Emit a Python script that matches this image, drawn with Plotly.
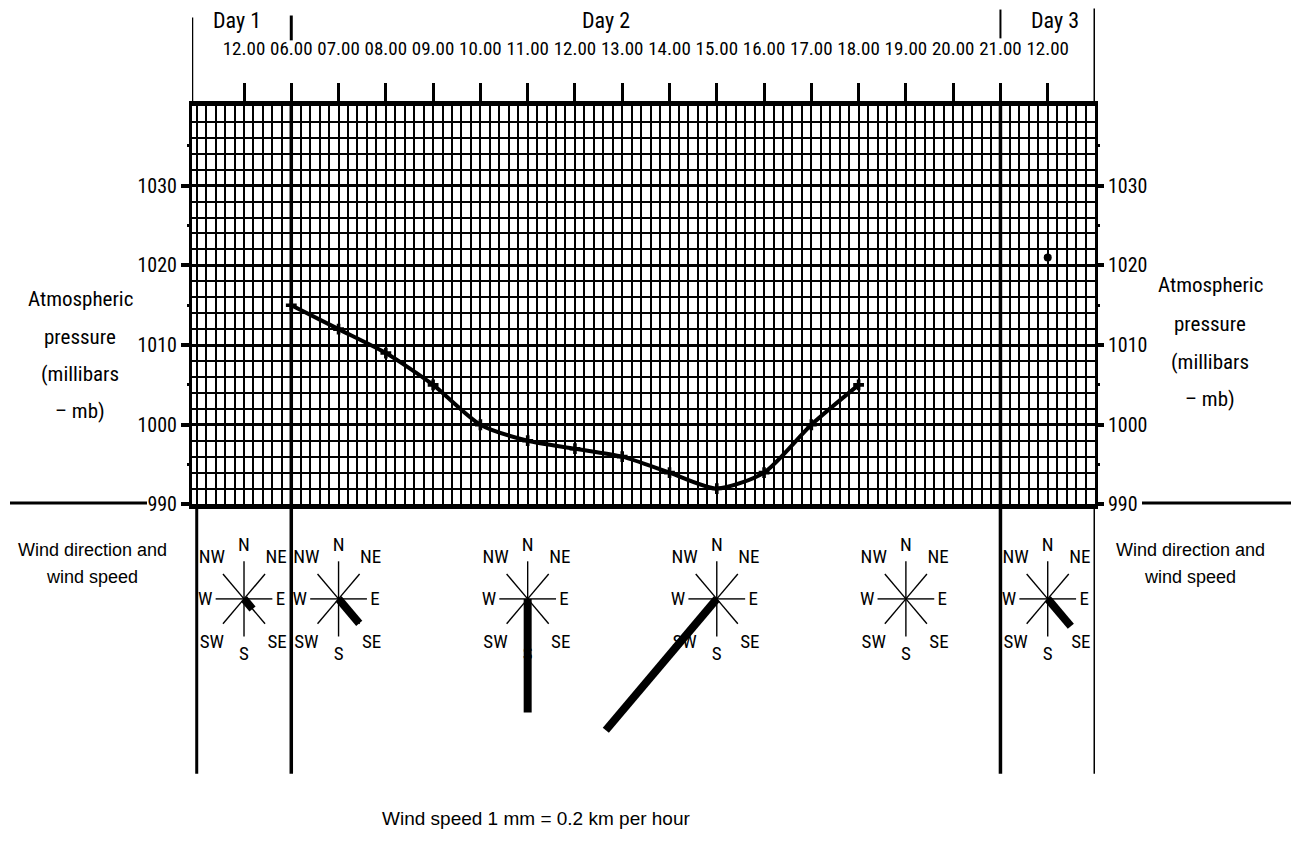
import math
import plotly.graph_objects as go

# ---------------- data ----------------
time_labels = ["12.00", "06.00", "07.00", "08.00", "09.00", "10.00", "11.00", "12.00",
               "13.00", "14.00", "15.00", "16.00", "17.00", "18.00", "19.00", "20.00",
               "21.00", "12.00"]
day_labels = ["Day 1", "Day 2", "Day 3"]

# pressure curve (Day 2, 06.00 .. 18.00) -> index into time_labels
curve_idx = [1, 2, 3, 4, 5, 6, 7, 8, 9, 10, 11, 12, 13]
curve_mb = [1015, 1012, 1009, 1005, 1000, 998, 997, 996, 994, 992, 994, 1000, 1005]
# isolated reading on Day 3
day3_idx = [17]
day3_mb = [1021]

pressure_ticks = [990, 1000, 1010, 1020, 1030]
pressure_minor_ticks = [995, 1005, 1015, 1025, 1035]

# wind roses
wind_idx = [0, 2, 6, 10, 14, 17]
wind_dir = ["SE", "SE", "S", "SW", "", "SE"]
wind_len = [0.28, 0.68, 2.42, 3.65, 0.0, 0.76]   # bar length (chart units)
compass = ["N", "NE", "E", "SE", "S", "SW", "W", "NW"]

# ---------------- layout helpers ----------------
W, H = 1291, 851
def px(x):
    return x / W
def py(y):
    # small empirical correction so that target pixel rows land where intended
    return 1 - ((y + 3.6) / 0.992) / H

XL, XR = 192, 1095
YT, YB = 103, 504
xr = [-1.1, 18.0]
unit = (XR - XL) / (xr[1] - xr[0])          # px per x unit
ROSE_Y = 599
WB = 775
y4_top, y4_bot = py(YB), py(WB)
y4r = [-(WB - ROSE_Y) / unit, (ROSE_Y - YB) / unit]

NARROW = "Roboto Condensed, Liberation Sans Narrow, Arial Narrow, Liberation Sans, Arial, sans-serif"
SANS = "Liberation Sans, Arial, sans-serif"

arm = {"N": (0, 0.80), "NE": (0.445, 0.53), "E": (0.60, 0), "SE": (0.445, -0.53),
       "S": (0, -0.80), "SW": (-0.445, -0.53), "W": (-0.60, 0), "NW": (-0.445, 0.53)}
lbl = {"N": (0, 1.12), "NE": (0.68, 0.86), "E": (0.77, -0.02), "SE": (0.70, -0.95),
       "S": (0, -1.2), "SW": (-0.68, -0.95), "W": (-0.82, -0.02), "NW": (-0.68, 0.86)}

fig = go.Figure()

# pressure curve
fig.add_trace(go.Scatter(
    x=curve_idx, y=curve_mb, mode="lines+markers",
    line=dict(color="black", width=4, shape="spline", smoothing=0.7),
    marker=dict(symbol="cross", size=9, color="black"),
    xaxis="x", yaxis="y", showlegend=False, hoverinfo="skip"))
fig.add_trace(go.Scatter(
    x=day3_idx, y=day3_mb, mode="markers",
    marker=dict(symbol="circle", size=8, color="black"),
    xaxis="x", yaxis="y", showlegend=False, hoverinfo="skip"))
# dummy traces for overlay axes
fig.add_trace(go.Scatter(x=[None], y=[None], xaxis="x", yaxis="y2", showlegend=False))
fig.add_trace(go.Scatter(x=[None], y=[None], xaxis="x", yaxis="y3", showlegend=False))

# wind roses
ax, ay, tx, ty, tt = [], [], [], [], []
for cx in wind_idx:
    for d in compass:
        dx, dy = arm[d]
        ax += [cx, cx + dx, None]
        ay += [0, dy, None]
        lx, ly = lbl[d]
        tx.append(cx + lx)
        ty.append(ly)
        tt.append(d)
fig.add_trace(go.Scatter(x=ax, y=ay, mode="lines", line=dict(color="black", width=1.4),
                         xaxis="x2", yaxis="y4", showlegend=False, hoverinfo="skip"))
fig.add_trace(go.Scatter(x=tx, y=ty, mode="text", text=tt,
                         textfont=dict(family=NARROW, size=19, color="black"),
                         xaxis="x2", yaxis="y4", showlegend=False, hoverinfo="skip"))
bx, by = [], []
for cx, d, L in zip(wind_idx, wind_dir, wind_len):
    if not d or L <= 0:
        continue
    dx, dy = arm[d]
    n = math.hypot(dx, dy)
    bx += [cx, cx + L * dx / n, None]
    by += [0, L * dy / n, None]
fig.add_trace(go.Scatter(x=bx, y=by, mode="lines", line=dict(color="black", width=8),
                         xaxis="x2", yaxis="y4", showlegend=False, hoverinfo="skip"))

shapes = []
# heavy day-boundary verticals (06.00 and 21.00) through grid and wind area
for xi in (1, 16):
    shapes.append(dict(type="line", xref="x", yref="paper", x0=xi, x1=xi,
                       y0=py(WB), y1=py(YT), line=dict(color="black", width=3.5)))
# wind area outer verticals
for xi in (-1.0, 18.0):
    shapes.append(dict(type="line", xref="x", yref="paper", x0=xi, x1=xi,
                       y0=py(WB), y1=py(YB), line=dict(color="black", width=3)))
# frame lines extending above the grid
shapes.append(dict(type="line", xref="x", yref="paper", x0=xr[0], x1=xr[0],
                   y0=py(YT), y1=py(14), line=dict(color="black", width=2.5)))
shapes.append(dict(type="line", xref="x", yref="paper", x0=xr[1], x1=xr[1],
                   y0=py(YT), y1=py(5), line=dict(color="black", width=3)))
# day separators at the top
shapes.append(dict(type="line", xref="x", yref="paper", x0=1, x1=1,
                   y0=py(37), y1=py(12), line=dict(color="black", width=3)))
shapes.append(dict(type="line", xref="x", yref="paper", x0=16, x1=16,
                   y0=py(35), y1=py(6), line=dict(color="black", width=2)))
# 990 baseline extensions
shapes.append(dict(type="line", xref="paper", yref="y", x0=px(10), x1=px(147),
                   y0=990, y1=990, line=dict(color="black", width=6)))
shapes.append(dict(type="line", xref="paper", yref="y", x0=px(1142), x1=px(1291),
                   y0=990, y1=990, line=dict(color="black", width=6)))

ann = []
def add_text(x, y, text, size, family, xref="paper", xanchor="center"):
    ann.append(dict(x=x, y=y, xref=xref, yref="paper", text=text, showarrow=False,
                    xanchor=xanchor, yanchor="middle",
                    font=dict(family=family, size=size, color="black")))

day_x = [-0.15, 7.65, 17.15]
for t, xv in zip(day_labels, day_x):
    add_text(xv, py(17), t, 22, NARROW, xref="x")

title_lines = ["Atmospheric", "pressure", "(millibars", "\u2013 mb)"]
for t, yl, yr in zip(title_lines, [297, 335, 373, 410], [283, 322, 361, 398]):
    add_text(px(80), py(yl), t, 21, NARROW)
    add_text(px(1210), py(yr), t, 21, NARROW)

for t, yv in zip(["Wind direction and", "wind speed"], [550, 577]):
    add_text(px(92), py(yv), t, 18, SANS)
    add_text(px(1190), py(yv), t, 18, SANS)

add_text(px(536), py(820), "Wind speed 1 mm = 0.2 km per hour", 19, SANS)

fig.update_layout(
    width=W, height=H, margin=dict(l=0, r=0, t=0, b=0),
    paper_bgcolor="white", plot_bgcolor="white",
    shapes=shapes, annotations=ann, showlegend=False,
    xaxis=dict(domain=[px(XL), px(XR)], range=xr, anchor="y", side="top",
               tickmode="array", tickvals=list(range(len(time_labels))), ticktext=time_labels,
               tickangle=0,
               ticks="outside", ticklen=18, tickwidth=3, tickcolor="black",
               ticklabelstandoff=20,
               tickfont=dict(family=NARROW, size=19, color="black"),
               showgrid=False, zeroline=False,
               showline=True, linecolor="black", linewidth=5, mirror=True,
               minor=dict(dtick=0.2, tick0=0, showgrid=True, gridcolor="black",
                          gridwidth=1.6, ticks="")),
    xaxis2=dict(domain=[px(XL), px(XR)], range=xr, anchor="y4", visible=False,
                showgrid=False, zeroline=False),
    yaxis=dict(domain=[py(YB), py(YT)], range=[990, 1040], anchor="x",
               tickmode="array", tickvals=pressure_ticks,
               ticks="outside", ticklen=8, tickwidth=4, tickcolor="black",
               tickfont=dict(family=NARROW, size=20, color="black"),
               showgrid=True, gridcolor="black", gridwidth=3, zeroline=False,
               showline=True, linecolor="black", linewidth=3, mirror=True,
               minor=dict(dtick=2, tick0=990, showgrid=True, gridcolor="black",
                          gridwidth=1.6, ticks="")),
    yaxis2=dict(overlaying="y", side="right", anchor="x", range=[990, 1040],
                tickmode="array", tickvals=pressure_ticks,
                ticks="outside", ticklen=8, tickwidth=4, tickcolor="black",
                tickfont=dict(family=NARROW, size=20, color="black"),
                showgrid=False, zeroline=False, showline=False,
                minor=dict(tickvals=pressure_minor_ticks, ticks="outside", ticklen=4,
                           tickwidth=3, tickcolor="black", showgrid=False)),
    yaxis3=dict(overlaying="y", side="left", anchor="x", range=[990, 1040],
                tickmode="array", tickvals=pressure_minor_ticks, showticklabels=False,
                ticks="outside", ticklen=4, tickwidth=3, tickcolor="black",
                showgrid=False, zeroline=False, showline=False),
    yaxis4=dict(domain=[y4_bot, y4_top], range=y4r, anchor="x2",
                visible=False, fixedrange=True),
)

fig.write_html("out.html", config={"displayModeBar": False},
               post_script="document.body.style.margin='0';")
